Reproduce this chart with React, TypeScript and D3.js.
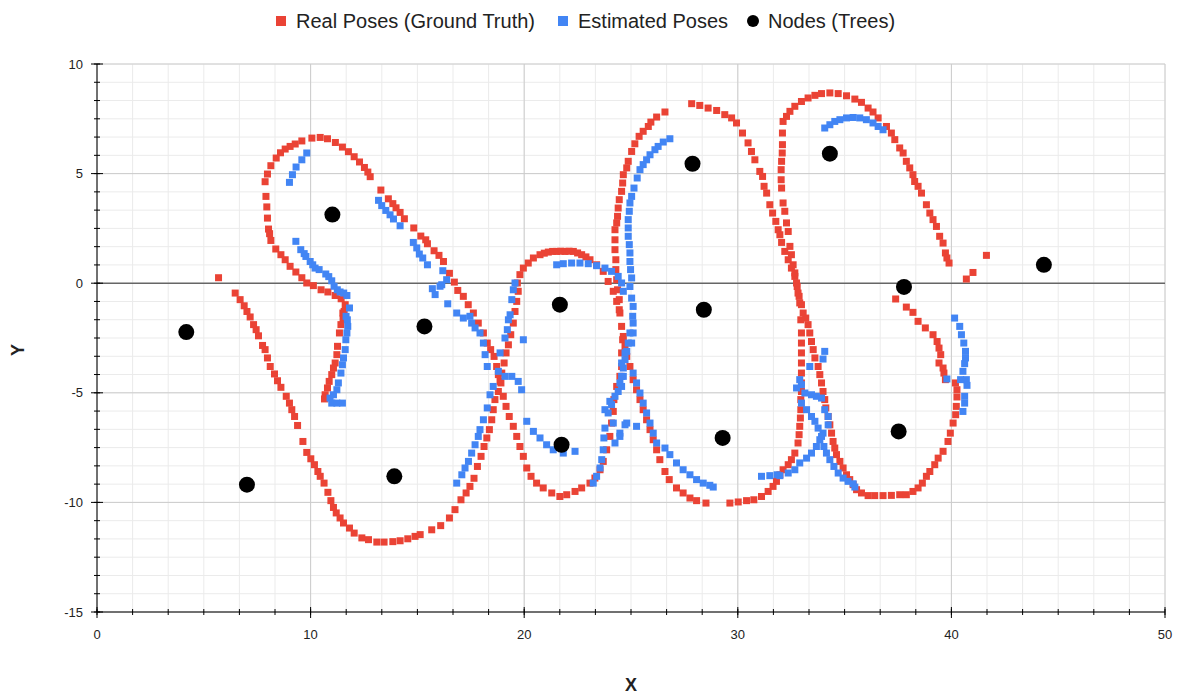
import { scaleLinear, range } from "d3"

// values
const realPoses: [number, number][] = [
  [5.69,0.25],
  [6.47,-0.45],[6.70,-0.75],[6.89,-1.03],[7.02,-1.29],[7.17,-1.54],[7.33,-1.89],[7.45,-2.12],[7.56,-2.40],[7.75,-2.84],[7.87,-3.03],[7.98,-3.41],[8.11,-3.80],[8.31,-4.14],[8.45,-4.45],[8.61,-4.75],[8.86,-5.16],[9.01,-5.47],[9.12,-5.77],[9.25,-6.08],[9.39,-6.49],[9.64,-7.22],[9.82,-7.72],[10.01,-8.01],[10.18,-8.28],[10.34,-8.59],[10.45,-8.81],[10.63,-9.12],[10.81,-9.54],[10.95,-9.92],[11.07,-10.23],[11.20,-10.48],[11.38,-10.71],[11.54,-10.94],[11.82,-11.17],[12.04,-11.40],[12.40,-11.62],[12.71,-11.70],[13.10,-11.81],[13.44,-11.81],[13.85,-11.79],[14.19,-11.75],[14.55,-11.66],[14.89,-11.55],[15.13,-11.47],[15.67,-11.25],[16.09,-11.06],[16.50,-10.71],[16.76,-10.33],[17.04,-9.88],[17.28,-9.57],[17.46,-9.27],[17.65,-8.90],
  [17.81,-8.36],[17.98,-7.90],[18.12,-7.45],[18.25,-7.06],[18.37,-6.68],[18.48,-6.23],[18.55,-5.77],[18.63,-5.31],[18.79,-4.94],[18.87,-4.48],[18.95,-4.10],[19.06,-3.64],[19.15,-3.18],[19.26,-2.81],[19.37,-2.35],[19.49,-1.82],[19.57,-1.29],[19.65,-0.83],[19.72,-0.37],[19.68,0.01],[19.80,0.39],[19.96,0.69],[20.19,0.92],[20.43,1.15],[20.74,1.30],[20.94,1.37],[21.13,1.42],[21.33,1.45],[21.52,1.45],[21.71,1.46],[21.91,1.45],[22.10,1.46],[22.30,1.45],[22.50,1.38],[22.69,1.30],[22.89,1.20],[23.08,1.07],[23.39,0.84],[23.70,0.54],[23.93,0.08],[24.17,-0.37],[24.33,-0.83],[24.48,-1.36],[24.56,-1.97],[24.61,-2.58],[24.56,-3.18],[24.56,-3.80],[24.48,-4.25],[24.33,-4.71],[24.20,-5.31],[24.17,-5.85],[24.09,-6.38],[24.01,-6.99],[23.86,-7.60],[23.70,-8.13],[23.55,-8.51],[23.31,-8.89],[23.08,-9.12],[22.69,-9.34],[22.38,-9.50],[21.99,-9.65],[21.67,-9.73],[21.29,-9.57],[20.89,-9.34],[20.58,-9.12],[20.32,-8.81],[20.12,-8.43],[19.96,-7.90],[19.80,-7.45],[19.65,-6.99],[19.49,-6.53],[19.30,-6.08],[19.15,-5.62],[19.02,-5.16],[18.91,-4.55],[18.79,-4.17],[18.71,-3.80],[18.59,-3.34],[18.43,-3.03],[18.27,-2.73],[18.09,-2.27],[17.85,-1.82],[17.62,-1.36],[17.38,-0.98],[17.15,-0.60],
  [16.89,-0.33],[16.73,0.05],[16.50,0.45],[16.22,0.99],[16.01,1.27],[15.78,1.48],[15.47,1.80],[15.39,1.98],[15.16,2.15],[14.83,2.52],[14.39,2.94],[14.19,3.23],[14.00,3.44],[13.85,3.63],[13.64,3.85],[13.29,4.25],[12.79,4.86],[12.68,5.07],[12.52,5.28],[12.29,5.53],[12.04,5.77],[11.77,6.00],[11.49,6.21],[11.16,6.42],[10.79,6.59],[10.45,6.65],[10.06,6.62],[9.59,6.49],[9.28,6.35],[9.04,6.24],[8.81,6.12],[8.59,5.95],[8.39,5.71],[8.14,5.36],[7.98,4.98],[7.87,4.63],[7.91,3.96],[7.95,3.48],[7.98,2.97],[8.03,2.47],[8.08,2.26],[8.14,1.95],[8.37,1.56],[8.61,1.30],[8.81,1.07],[9.04,0.77],[9.31,0.51],[9.59,0.25],[9.82,0.01],[10.13,-0.11],[10.49,-0.30],[10.81,-0.40],[11.15,-0.56],[11.43,-0.71],[11.62,-0.98],[11.57,-1.29],[11.51,-1.36],[11.52,-1.63],[11.42,-1.89],[11.35,-2.27],[11.26,-2.88],[11.23,-3.26],[11.15,-3.64],[11.07,-3.87],[10.99,-4.17],[10.87,-4.48],[10.79,-4.78],[10.68,-5.09],[10.65,-5.28],
  [24.45,-1.21],[24.45,-0.75],[24.37,-0.30],[24.33,0.16],[24.29,0.62],[24.29,1.07],[24.25,1.53],[24.25,1.98],[24.25,2.44],[24.33,2.75],[24.37,3.05],[24.40,3.43],[24.45,3.81],[24.56,4.19],[24.61,4.57],[24.64,4.95],[24.80,5.26],[24.87,5.56],[25.03,6.01],[25.18,6.36],[25.38,6.70],[25.57,6.93],[25.81,7.15],[25.93,7.35],[26.20,7.58],[26.59,7.81],[27.84,8.19],[28.22,8.11],[28.61,7.99],[29.01,7.88],[29.39,7.69],[29.71,7.54],[29.94,7.31],[30.22,6.85],[30.48,6.40],[30.64,6.01],[30.80,5.63],[31.03,5.10],[31.16,4.87],[31.23,4.42],[31.35,4.11],[31.50,3.58],[31.63,3.20],[31.78,2.82],[31.89,2.44],[31.97,2.21],[32.05,1.86],[32.20,1.45],[32.36,1.07],[32.51,0.69],[32.67,0.31],[32.78,-0.15],[32.87,-0.60],[32.98,-0.98],[33.06,-1.36],[33.18,-1.59],[33.29,-1.89],[33.37,-2.27],[33.45,-2.66],[33.53,-3.03],[33.61,-3.41],[33.76,-3.80],[33.84,-4.17],[33.92,-4.55],[33.99,-4.94],[34.07,-5.31],[34.12,-5.69],[34.23,-6.08],[34.31,-6.46],[34.39,-6.84],[34.46,-7.22],[34.54,-7.52],[34.62,-7.82],[34.78,-8.13],[34.93,-8.43],[35.09,-8.74],[35.24,-8.96],[35.40,-9.19],[35.56,-9.42],[35.79,-9.57],[36.10,-9.69],[36.41,-9.69],[36.80,-9.69],[37.19,-9.68],[37.58,-9.65],[37.89,-9.65],[38.20,-9.50],[38.44,-9.34],[38.64,-9.12],[38.83,-8.81],[38.99,-8.59],[39.22,-8.28],[39.38,-7.98],[39.61,-7.67],[39.84,-7.22],[39.95,-6.84],[40.08,-6.38],[40.20,-6.00],[40.23,-5.62],[40.26,-5.19],[40.26,-4.86],[40.19,-4.55],[39.72,-4.40],[39.65,-4.10],[39.61,-3.87],[39.42,-3.64],[39.50,-3.26],[39.42,-2.96],[39.33,-2.66],[39.14,-2.35],[38.78,-2.04],[38.44,-1.74],[38.20,-1.33],[37.89,-1.09],[37.39,-0.72],
  [24.80,-3.34],[24.72,-2.88],[24.64,-2.43],
  [24.95,-3.80],[25.10,-4.40],[25.26,-4.86],[25.42,-5.31],[25.57,-5.77],[25.73,-6.23],[25.89,-6.68],[26.04,-7.14],[26.20,-7.60],[26.35,-8.05],[26.59,-8.59],[26.79,-8.96],[27.13,-9.34],[27.44,-9.57],[27.76,-9.80],[28.07,-9.92],[28.51,-10.03],[29.63,-10.03],[30.02,-9.98],[30.41,-9.92],[30.75,-9.88],[31.11,-9.73],[31.42,-9.50],[31.65,-9.27],[31.81,-9.04],[31.97,-8.74],[32.12,-8.51],[32.36,-8.28],[32.51,-8.05],[32.67,-7.75],[32.82,-7.29],[32.87,-6.91],[32.90,-6.53],[32.93,-6.15],[32.95,-5.77],[32.95,-5.31],[32.98,-4.94],[32.98,-4.55],[32.98,-4.10],[32.98,-3.64],[32.98,-3.18],[32.98,-2.73],[32.98,-2.27],[32.95,-1.67],[32.90,-0.90],[32.82,-0.45],[32.75,0.01],[32.67,0.47],[32.59,0.84],[32.51,1.30],[32.44,1.68],[32.36,2.36],[32.28,2.75],[32.20,3.28],[32.12,3.66],[32.05,4.34],[32.03,4.72],[32.03,5.18],[32.05,5.56],[32.08,5.94],[32.09,6.32],[32.09,6.85],[32.12,7.38],[32.28,7.61],[32.44,7.84],[32.67,8.07],[32.98,8.29],[33.29,8.45],[33.61,8.57],[33.92,8.65],[34.31,8.68],[34.70,8.65],[35.09,8.55],[35.48,8.40],[35.79,8.25],[36.10,7.99],[36.33,7.81],[36.57,7.54],[36.96,7.15],[37.19,6.85],[37.35,6.55],[37.58,6.17],[37.74,5.94],[37.89,5.56],[38.05,5.26],[38.20,4.95],[38.28,4.64],[38.44,4.42],[38.60,4.11],[38.83,3.58],[38.99,3.20],[39.14,2.90],[39.30,2.59],[39.45,2.14],[39.61,1.83],[39.72,1.38],[39.79,1.15],[39.89,0.92],
  [40.70,0.19],[41.01,0.49],[41.64,1.27],
]

const estimatedPoses: [number, number][] = [
  [9.82,5.94],[9.59,5.63],[9.32,5.30],[9.15,4.95],[9.01,4.60],
  [9.31,1.91],[9.54,1.53],[9.70,1.35],[9.78,1.22],[9.98,0.99],[10.10,0.84],[10.21,0.69],[10.40,0.62],[10.71,0.42],[10.85,0.30],[10.99,0.11],[11.10,-0.14],[11.25,-0.30],[11.38,-0.40],[11.55,-0.45],[11.70,-0.56],[11.82,-1.13],[11.66,-1.51],[11.72,-1.67],[11.74,-1.97],[11.70,-2.27],[11.65,-2.58],[11.62,-3.03],[11.54,-3.41],[11.49,-3.72],[11.42,-4.10],[11.30,-4.55],[11.23,-4.86],[11.07,-5.09],[10.91,-5.24],[10.99,-5.47],[11.23,-5.47],[11.49,-5.47],
  [13.18,3.78],[13.33,3.54],[13.52,3.32],[13.72,3.12],[13.88,2.93],[14.19,2.62],[14.81,1.86],[14.97,1.61],[15.09,1.33],[15.25,1.15],[15.47,0.84],[16.19,0.57],[16.37,0.16],[16.06,-0.14],[15.70,-0.25],[15.83,-0.52],[16.14,-0.07],[16.42,-0.94],[16.84,-1.36],[17.15,-1.59],[17.46,-1.51],[17.54,-1.82],[17.70,-2.04],[17.93,-2.27],[18.09,-2.73],[18.17,-3.26],[18.27,-3.80],[18.79,-4.02],[19.10,-4.25],[19.42,-4.25],[19.72,-4.48],[19.88,-4.86],[18.55,-4.71],[18.40,-5.09],[18.27,-5.69],[18.09,-6.23],[17.93,-6.68],[17.85,-6.99],[17.70,-7.37],[17.54,-7.75],[17.39,-8.13],[17.23,-8.43],[17.08,-8.74],[16.84,-9.12],
  [19.57,0.01],[19.49,-0.30],[19.42,-0.75],[19.34,-1.44],[19.26,-1.67],[19.21,-2.12],[19.10,-2.50],[18.87,-3.18],[19.96,-2.58],
  [21.52,0.84],[21.83,0.89],[22.22,0.92],[22.61,0.92],[23.00,0.89],[23.39,0.80],[23.78,0.69],[24.09,0.54],[24.40,0.31],[24.56,0.01],[24.64,-0.37],
  [20.12,-6.30],[20.43,-6.76],[20.74,-7.06],[21.05,-7.37],[21.36,-7.60],[21.83,-7.75],[22.38,-7.67],
  [26.82,6.59],[26.51,6.44],[26.27,6.24],[26.12,6.09],[25.89,5.86],[25.73,5.63],[25.57,5.41],[25.42,5.18],[25.29,4.80],[25.14,4.34],[25.03,3.96],[24.95,3.66],[24.92,3.28],[24.87,2.90],[24.87,2.52],[24.87,2.14],[24.92,1.76],[24.95,1.38],[24.95,0.99],[24.98,0.62],[25.03,0.24],[24.95,-0.15],[25.03,-0.68],[25.10,-1.06],[25.08,-1.51],[25.10,-1.82],[25.10,-2.27],[25.03,-2.73],
  [24.95,-2.27],[24.87,-2.73],[24.80,-3.11],[24.72,-3.49],[24.64,-3.87],[24.56,-4.25],[24.48,-4.55],[24.40,-4.94],[24.25,-5.16],[24.09,-5.54],[23.93,-5.92],[23.78,-6.61],[23.73,-7.06],[23.70,-7.60],[23.63,-8.05],[23.55,-8.43],[23.39,-8.81],[23.23,-9.12],[24.17,-6.38],[24.48,-6.84],[24.80,-6.38],[24.25,-7.29],[24.48,-6.99],[24.72,-6.46],[25.26,-6.53],[24.01,-5.39],[23.78,-5.77],[24.56,-4.71],[24.64,-4.25],[24.56,-3.64],[24.72,-3.18],
  [25.10,-4.10],[25.26,-4.55],[25.42,-5.01],[25.57,-5.47],[25.73,-5.92],[25.89,-6.38],[26.04,-6.84],[26.20,-7.29],[26.59,-7.52],[26.82,-7.82],[27.13,-8.20],[27.44,-8.51],[27.76,-8.74],[28.07,-8.96],[28.38,-9.12],[28.69,-9.22],[28.85,-9.30],
  [31.11,-8.81],[31.50,-8.78],[31.84,-8.74],[31.97,-8.78],[32.36,-8.66],[32.67,-8.51],[32.90,-8.20],[33.22,-7.98],[33.45,-7.75],[33.68,-7.45],[33.84,-7.14],[33.99,-6.84],[34.23,-6.46],[34.23,-6.08],[34.07,-5.77],[33.92,-5.24],[33.68,-5.16],[33.45,-5.09],[33.14,-5.01],[32.98,-4.63],[32.75,-4.78],[32.90,-4.40],[33.37,-3.80],[33.99,-3.46],[34.07,-3.11],
  [32.98,-5.47],[33.22,-5.77],[33.45,-6.08],[33.61,-6.30],[33.76,-6.61],[33.92,-6.99],[34.03,-7.45],[34.15,-7.75],[34.31,-8.05],[34.50,-8.36],[34.70,-8.66],[34.93,-8.89],[35.16,-9.04],[35.40,-9.15],[35.48,-9.30],
  [34.07,7.08],[34.31,7.23],[34.54,7.38],[34.78,7.46],[35.09,7.54],[35.40,7.56],[35.71,7.54],[36.02,7.46],[36.33,7.31],[36.57,7.15],[36.80,7.00],
  [40.15,-1.59],[40.39,-1.97],[40.47,-2.35],[40.58,-2.73],[40.66,-3.11],[40.66,-3.41],[40.62,-3.67],[40.54,-4.02],[40.43,-4.40],[40.70,-4.40],[40.73,-4.66],[40.62,-5.16],[40.62,-5.47],[40.54,-5.85],[39.79,-4.37],
]

const nodes: [number, number][] = [
  [4.18,-2.23],[7.02,-9.19],[11.02,3.13],[15.33,-1.97],[13.92,-8.81],[21.67,-0.98],[21.75,-7.37],
  [27.88,5.45],[28.41,-1.21],[29.29,-7.06],[34.31,5.91],[37.78,-0.17],[37.53,-6.76],[44.33,0.84],
]

const xTicks = [0, 10, 20, 30, 40, 50]
const yTicks = [-15, -10, -5, 0, 5, 10]

const legendItems = [
  { label: "Real Poses (Ground Truth)", color: "#ea4335", shape: "square", x: 276 },
  { label: "Estimated Poses", color: "#4285f4", shape: "square", x: 558 },
  { label: "Nodes (Trees)", color: "#000000", shape: "circle", x: 748 },
]

const font = "'Liberation Sans', Arial, sans-serif"

export default function App() {
  const width = 1184
  const height = 698
  const plot = { left: 97, right: 1165, top: 64, bottom: 612 }

  const x = scaleLinear().domain([0, 50]).range([plot.left, plot.right])
  const y = scaleLinear().domain([-15, 10]).range([plot.bottom, plot.top])

  const xMinor = range(0, 50.001, 10 / 6)
  const yMinor = range(-15, 10.001, 5 / 6)
  const sq = 7

  return (
    <svg width={width} height={height} style={{ position: "absolute", left: 0, top: 0, fontFamily: font }}>
      <rect width={width} height={height} fill="#fff" />

      {/* minor grid */}
      {xMinor.map((v, i) => (
        <line key={`xm${i}`} x1={x(v)} x2={x(v)} y1={plot.top} y2={plot.bottom} stroke="#ebebeb" />
      ))}
      {yMinor.map((v, i) => (
        <line key={`ym${i}`} x1={plot.left} x2={plot.right} y1={y(v)} y2={y(v)} stroke="#ebebeb" />
      ))}
      {/* major grid */}
      {xTicks.map(v => (
        <line key={`xg${v}`} x1={x(v)} x2={x(v)} y1={plot.top} y2={plot.bottom} stroke="#cccccc" />
      ))}
      {yTicks.map(v => (
        <line key={`yg${v}`} x1={plot.left} x2={plot.right} y1={y(v)} y2={y(v)} stroke="#cccccc" />
      ))}
      <line x1={plot.left} x2={plot.right} y1={y(0)} y2={y(0)} stroke="#333" />

      {/* axes */}
      <line x1={plot.left} x2={plot.right} y1={plot.bottom} y2={plot.bottom} stroke="#000" />
      <line x1={plot.left} x2={plot.left} y1={plot.top} y2={plot.bottom} stroke="#000" />
      {xMinor.map((v, i) => (
        <line key={`xt${i}`} x1={x(v)} x2={x(v)} y1={plot.bottom - 3} y2={plot.bottom + 3} stroke="#000" />
      ))}
      {xTicks.map(v => (
        <g key={`xl${v}`}>
          <line x1={x(v)} x2={x(v)} y1={plot.bottom - 5} y2={plot.bottom + 6} stroke="#000" />
          <text x={x(v)} y={plot.bottom + 27} textAnchor="middle" fontSize="13px" fill="#222">{v}</text>
        </g>
      ))}
      {yMinor.map((v, i) => (
        <line key={`yt${i}`} x1={plot.left - 3} x2={plot.left + 3} y1={y(v)} y2={y(v)} stroke="#000" />
      ))}
      {yTicks.map(v => (
        <g key={`yl${v}`}>
          <line x1={plot.left - 6} x2={plot.left + 6} y1={y(v)} y2={y(v)} stroke="#000" />
          <text x={plot.left - 14} y={y(v)} dy="0.35em" textAnchor="end" fontSize="13px" fill="#222">{v}</text>
        </g>
      ))}

      {/* marks */}
      {realPoses.map(([px, py], i) => (
        <rect key={`r${i}`} x={x(px) - sq / 2} y={y(py) - sq / 2} width={sq} height={sq} fill="#ea4335" />
      ))}
      {estimatedPoses.map(([px, py], i) => (
        <rect key={`b${i}`} x={x(px) - sq / 2} y={y(py) - sq / 2} width={sq} height={sq} fill="#4285f4" />
      ))}
      {nodes.map(([px, py], i) => (
        <circle key={`n${i}`} cx={x(px)} cy={y(py)} r={8} fill="#000" />
      ))}

      {/* axis titles */}
      <text x={631} y={691} textAnchor="middle" fontSize="18px" fontWeight="bold" fill="#222">X</text>
      <text transform="translate(24, 350) rotate(-90)" textAnchor="middle" fontSize="18px" fontWeight="bold" fill="#222">Y</text>

      {/* legend */}
      {legendItems.map(item => (
        <g key={item.label}>
          {item.shape === "square" ? (
            <rect x={item.x} y={16} width={10} height={10} fill={item.color} />
          ) : (
            <circle cx={item.x + 5} cy={21} r={6} fill={item.color} />
          )}
          <text x={item.x + 20} y={21} dy="0.35em" fontSize="20px" fill="#222">{item.label}</text>
        </g>
      ))}
    </svg>
  )
}
